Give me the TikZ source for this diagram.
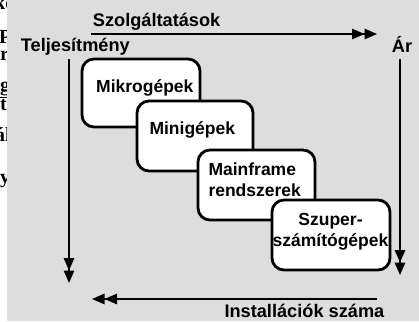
\documentclass[tikz,border=0pt]{standalone}
\usepackage{fontspec}
\setmainfont{Liberation Sans}
\newfontfamily\pageserif{Liberation Serif}
\usetikzlibrary{arrows.meta}
\definecolor{panelgray}{RGB}{221,221,221}
\tikzset{
  boxsty/.style={draw, line width=2.8pt, rounded corners=12pt, fill=white,
    rectangle, inner sep=0pt},
  lbl/.style={inner sep=0pt, anchor=base west,
    font=\bfseries\fontsize{18.2}{21}\selectfont},
  boxtxt/.style={inner sep=0pt, font=\bfseries\fontsize{17.5}{21}\selectfont},
  pagetxt/.style={inner sep=0pt, anchor=base west,
    font=\pageserif\bfseries\fontsize{20}{20}\selectfont},
  axis/.style={line width=1.3pt,
    -{Triangle[length=12.5pt,width=10.5pt]Triangle[length=12.5pt,width=10.5pt]}},
}
\begin{document}
\begin{tikzpicture}[x=1pt,y=-1pt]
  \useasboundingbox (0,0) rectangle (419,321);
  % page margin with cut-off text, then the grey panel
  \fill[white] (0,0) rectangle (7.3,321);
  \begin{scope}
    \clip (0,0) rectangle (7.3,321);
    \node[pagetxt] (p1) at (-6,10) {ko};
    \node[pagetxt] (p2) at (-1,43) {P};
    \node[pagetxt] (p3) at (0,60) {r};
    \node[pagetxt] (p4) at (0,91) {\underline{g}};
    \node[pagetxt] (p5) at (0,110) {t};
    \node[pagetxt] (p6) at (-5,141) {ál};
    \node[pagetxt] (p7) at (0,183) {y};
  \end{scope}
  \fill[panelgray] (7.3,0) rectangle (419,321);

  % axis labels
  \node[lbl] (szolg) at (92.7,26.7) {Szolgáltatások};
  \node[lbl] (telj) at (20.7,51.7) {Teljesítmény};
  \node[lbl] (ar) at (391.7,52.3) {Ár};
  \node[lbl] (inst) at (224.3,317) {Installációk száma};

  % axis arrows
  \coordinate (topA) at (91,34);
  \coordinate (topB) at (377,34);
  \coordinate (leftA) at (69,59);
  \coordinate (leftB) at (69,283);
  \coordinate (rightA) at (400,59);
  \coordinate (rightB) at (400,275);
  \coordinate (botA) at (377,299);
  \coordinate (botB) at (92,299);
  \draw[axis] (topA) -- (topB);
  \draw[axis] (leftA) -- (leftB);
  \draw[axis] (rightA) -- (rightB);
  \draw[axis] (botA) -- (botB);

  % computer classes, each box lying over the previous one
  % (a multi-line node's base anchor sits on its last line)
  \node[boxsty, minimum width=118pt, minimum height=68pt] (mikro) at (141,93) {};
  \node[boxtxt, anchor=base west] (mikrot) at (96,92.7) {Mikrogépek};

  \node[boxsty, minimum width=116pt, minimum height=70pt] (mini) at (195,136) {};
  \node[boxtxt, anchor=base west] (minit) at (149.3,134.3) {Minigépek};

  \node[boxsty, minimum width=117pt, minimum height=70pt] (main) at (256.5,185) {};
  \node[boxtxt, anchor=base west, align=left] (maint) at (208.3,196.7) {Mainframe\\rendszerek};

  \node[boxsty, minimum width=118pt, minimum height=70pt] (szuper) at (331,235) {};
  \node[boxtxt, anchor=base, align=center] (szupert) at (330.5,246) {Szuper-\\számítógépek};
\end{tikzpicture}
\end{document}
